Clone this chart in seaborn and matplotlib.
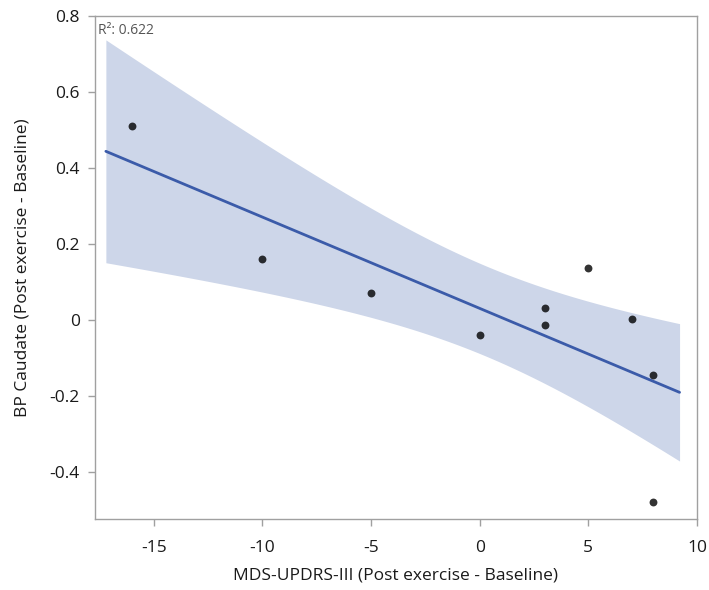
import numpy as np
import pandas as pd
import seaborn as sns
from matplotlib import pyplot as plt
from matplotlib.ticker import FuncFormatter

# MDS-UPDRS-III change vs BP caudate change
updrs_change = [-16, -10, -5, 0, 3, 3, 5, 7, 8, 8]
bp_change = [0.51, 0.16, 0.07, -0.04, 0.032, -0.012, 0.137, 0.003, -0.145, -0.48]
r2_label = "R\u00b2: 0.622"

df = pd.DataFrame({"x": updrs_change, "y": bp_change})

sns.set_style("white")
plt.rcParams["font.family"] = ["Open Sans", "DejaVu Sans"]
plt.rcParams["axes.unicode_minus"] = False

fig = plt.figure(figsize=(7.09, 5.90), dpi=100)
ax = fig.add_axes([0.134, 0.12, 0.849, 0.853])

# fit range: a bit beyond the data
fit_lo, fit_hi = min(updrs_change) - 1.2, max(updrs_change) + 1.2
ax.set_xlim(fit_lo, fit_hi)

# analytic 95% confidence band of the mean
x = np.array(updrs_change, float)
y = np.array(bp_change, float)
n = len(x)
slope, icpt = np.polyfit(x, y, 1)
resid = y - (icpt + slope * x)
s = np.sqrt(np.sum(resid ** 2) / (n - 2))
grid = np.linspace(fit_lo, fit_hi, 200)
se = s * np.sqrt(1 / n + (grid - x.mean()) ** 2 / np.sum((x - x.mean()) ** 2))
t = 2.306
ax.fill_between(grid, icpt + slope * grid - t * se, icpt + slope * grid + t * se,
                color="#cdd6e9", lw=0, zorder=1)

sns.regplot(data=df, x="x", y="y", ci=None, truncate=False, ax=ax,
            scatter_kws={"color": "black", "s": 32, "zorder": 3, "linewidths": 0},
            line_kws={"color": "#3b5ba9", "lw": 2, "zorder": 2})

ax.set_xlim(-17.7, 10)
ax.set_ylim(-0.524, 0.8)
ax.set_xticks([-15, -10, -5, 0, 5, 10])
ax.set_yticks([-0.4, -0.2, 0, 0.2, 0.4, 0.6, 0.8])
ax.yaxis.set_major_formatter(FuncFormatter(lambda v, p: "{:g}".format(round(v, 2))))

for sp in ax.spines.values():
    sp.set_color("#a0a0a0")
    sp.set_linewidth(1)
ax.tick_params(axis="both", which="major", direction="out", length=5, width=1,
               color="#a0a0a0", labelsize=12.5, labelcolor="#1a1a1a", bottom=True, left=True)
ax.tick_params(axis="x", pad=10)
ax.tick_params(axis="y", pad=6)

ax.set_xlabel("MDS-UPDRS-III (Post exercise - Baseline)", fontsize=12.5, color="#1a1a1a", labelpad=8)
ax.set_ylabel("BP Caudate (Post exercise - Baseline)", fontsize=12.5, color="#1a1a1a", labelpad=14)

ax.text(0.005, 0.985, r2_label, transform=ax.transAxes, ha="left", va="top",
        fontsize=10, color="#555555", zorder=4)

plt.savefig("out.png", dpi=100)
